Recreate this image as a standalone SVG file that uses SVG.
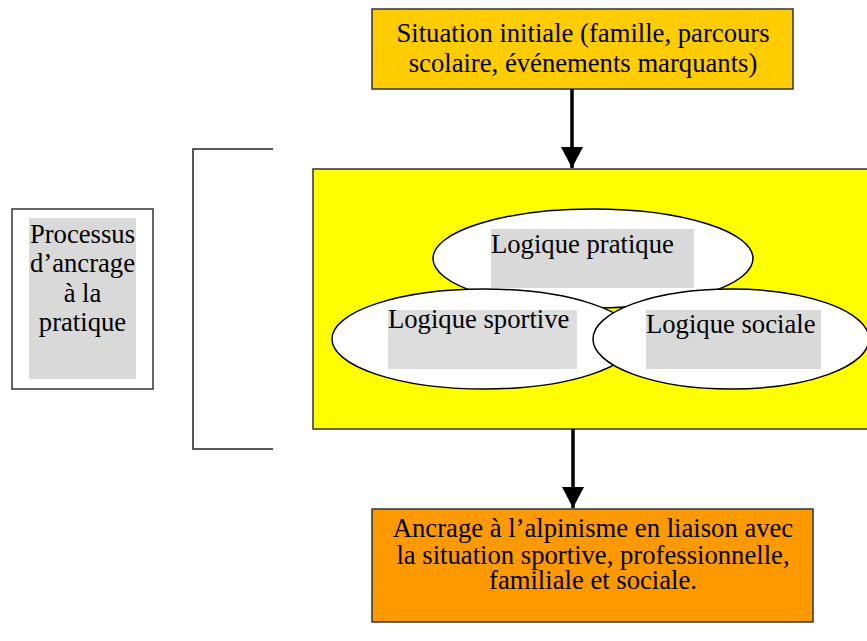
<svg xmlns="http://www.w3.org/2000/svg" width="867" height="641" viewBox="0 0 867 641">
  <defs>
    <style>
      .t { font-family: "Liberation Serif", "Times New Roman", serif; font-size: 26.67px; fill: #000; }
      .c { text-anchor: middle; }
      .box { stroke: #333; stroke-width: 1.5; }
      .ell { fill: #fff; stroke: #000; stroke-width: 1.5; }
      .hl { fill: #d9d9d9; }
      .conn { stroke: #000; stroke-width: 3.5; fill: none; }
    </style>
    <marker id="ah" markerUnits="userSpaceOnUse" markerWidth="22" markerHeight="22" refX="21" refY="11" orient="auto">
      <path d="M0,0 L21,11 L0,22 Z" fill="#000"/>
    </marker>
  </defs>
  <rect width="867" height="641" fill="#fff"/>

  <g id="bracket">
    <path d="M273,149 H193 V449 H273" fill="none" stroke="#222" stroke-width="1.5"/>
  </g>

  <g id="processus">
    <rect class="box" x="12" y="209" width="141" height="180" fill="#fff"/>
    <rect class="hl" x="29" y="218" width="107" height="161"/>
    <text class="t c" x="82.5" y="243">Processus</text>
    <text class="t c" x="82.5" y="272">d’ancrage</text>
    <text class="t c" x="82.5" y="302">à la</text>
    <text class="t c" x="82.5" y="331">pratique</text>
  </g>

  <g id="situation">
    <rect class="box" x="372" y="9" width="421" height="80" fill="#ffcc00"/>
    <text class="t c" x="583" y="42">Situation initiale (famille, parcours</text>
    <text class="t c" x="583" y="72">scolaire, événements marquants)</text>
  </g>

  <g id="logiques">
    <rect class="box" x="313" y="169" width="570" height="260" fill="#ffff00"/>
  </g>

  <g id="pratique">
    <ellipse class="ell" cx="593" cy="258.5" rx="160" ry="49.5"/>
    <rect class="hl" x="491" y="229" width="203" height="59"/>
    <text class="t" x="491" y="253">Logique pratique</text>
  </g>

  <g id="sportive">
    <ellipse class="ell" cx="484" cy="339" rx="152" ry="50"/>
    <rect x="388" y="310" width="189" height="59" fill="#dddddd"/>
    <text class="t" x="388" y="328">Logique sportive</text>
  </g>

  <g id="sociale">
    <ellipse class="ell" cx="731" cy="339" rx="138" ry="50"/>
    <rect class="hl" x="646" y="310" width="175" height="59"/>
    <text class="t" x="646" y="333">Logique sociale</text>
  </g>

  <g id="ancrage">
    <rect class="box" x="372" y="509" width="441" height="113" fill="#ff9900"/>
    <text class="t c" x="593" y="537">Ancrage à l’alpinisme en liaison avec</text>
    <text class="t c" x="593" y="564">la situation sportive, professionnelle,</text>
    <text class="t c" x="593" y="589">familiale et sociale.</text>
  </g>

  <g id="connectors">
    <line class="conn" x1="572" y1="89" x2="572" y2="168" marker-end="url(#ah)"/>
    <line class="conn" x1="573" y1="429" x2="573" y2="508" marker-end="url(#ah)"/>
  </g>
</svg>
